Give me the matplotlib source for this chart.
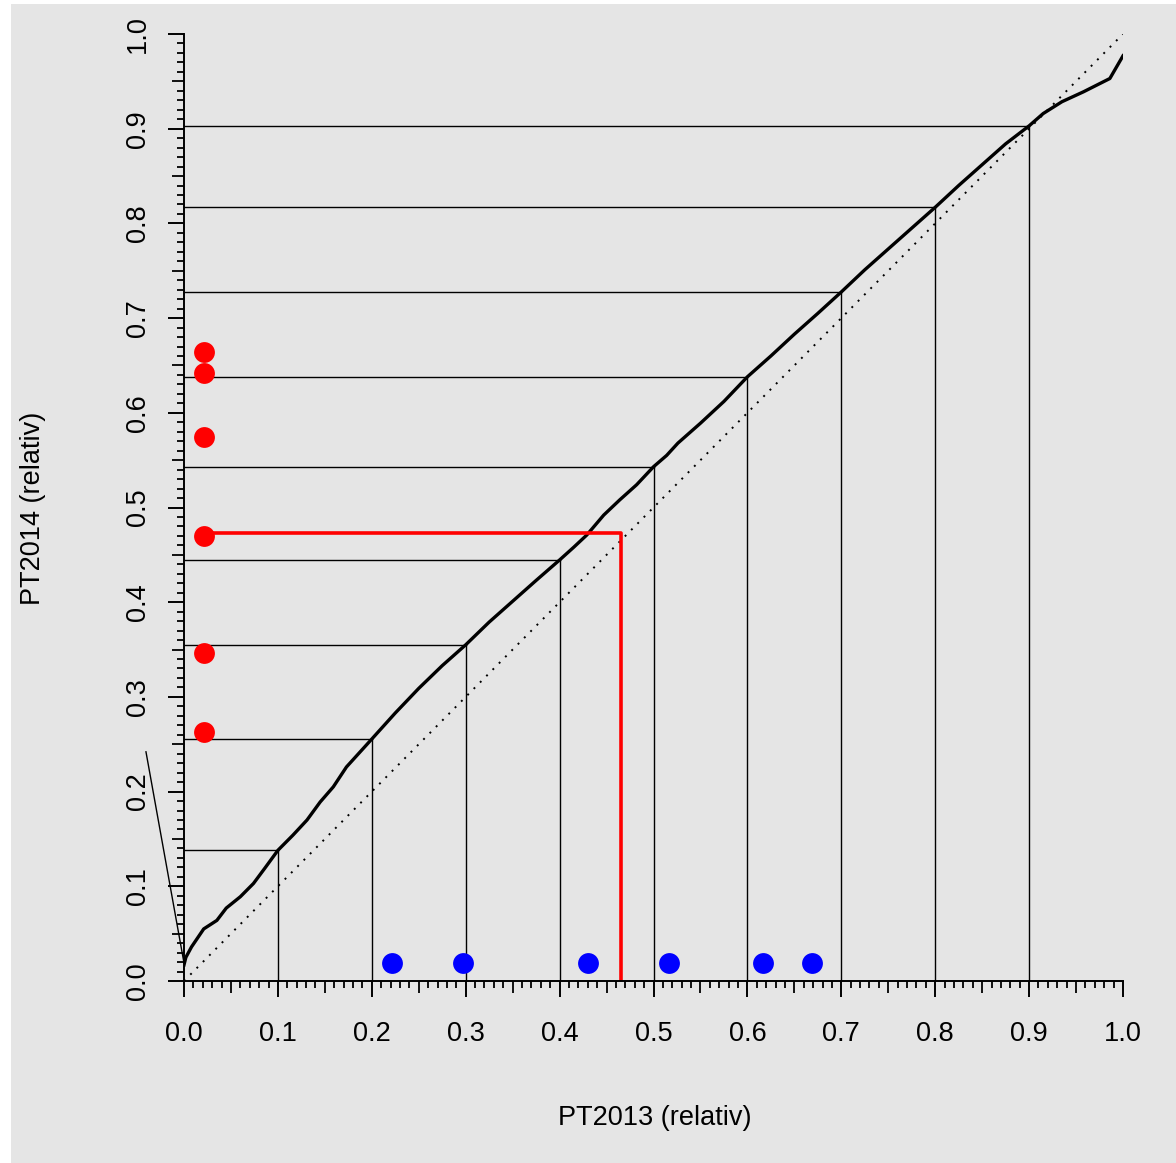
import matplotlib.pyplot as plt
from matplotlib.patches import Rectangle
from matplotlib.ticker import FixedLocator

plt.rcParams['font.family'] = ['Liberation Sans', 'DejaVu Sans']

# ----- data -----
# relative PT2013 vs relative PT2014 (black curve)
curve_x = [0.0, 0.002, 0.008, 0.021, 0.035, 0.045, 0.06, 0.074, 0.086, 0.1,
           0.116, 0.131, 0.145, 0.159, 0.173, 0.2, 0.225, 0.25, 0.275, 0.3,
           0.325, 0.35, 0.375, 0.4, 0.415, 0.429, 0.447, 0.464, 0.482, 0.5,
           0.514, 0.526, 0.55, 0.575, 0.6, 0.625, 0.65, 0.675, 0.7, 0.725,
           0.75, 0.775, 0.8, 0.825, 0.85, 0.875, 0.9, 0.915, 0.935, 0.958,
           0.986, 1.0]
curve_y = [0.017, 0.025, 0.036, 0.055, 0.064, 0.077, 0.089, 0.103, 0.119, 0.138,
           0.154, 0.170, 0.189, 0.205, 0.226, 0.2555, 0.283, 0.309, 0.333, 0.355,
           0.379, 0.401, 0.423, 0.4446, 0.458, 0.471, 0.492, 0.508, 0.524, 0.543,
           0.555, 0.568, 0.589, 0.612, 0.638, 0.660, 0.683, 0.705, 0.7276, 0.751,
           0.773, 0.795, 0.817, 0.840, 0.862, 0.884, 0.903, 0.916, 0.9285, 0.939,
           0.953, 0.977]

# guide lines at the deciles
decile_x = [0.1, 0.2, 0.3, 0.4, 0.5, 0.6, 0.7, 0.8, 0.9]
decile_y = [0.138, 0.2555, 0.355, 0.4446, 0.543, 0.638, 0.7276, 0.817, 0.903]

# highlighted point (red)
mark_x = 0.465
mark_y = 0.473

# red dots on the y side, blue dots on the x side
red_x = 0.021
red_y = [0.6645, 0.6424, 0.5748, 0.4699, 0.3460, 0.2632]
blue_x = [0.2212, 0.2968, 0.4299, 0.5168, 0.6163, 0.6685]
blue_y = 0.0193

# the stray line left of the y axis
stray_x = [-0.0405, 0.0]
stray_y = [0.242, 0.019]

W, H = 1176, 1163
fig = plt.figure(figsize=(W / 100, H / 100), dpi=100, facecolor='white')
# grey plotting region, leaving a thin white strip on the left and top
fig.patches.append(Rectangle((11 / W, 0), 1 - 11 / W, 1 - 4 / H,
                             transform=fig.transFigure, facecolor='#e5e5e5',
                             edgecolor='none', zorder=-10))

ax = fig.add_axes([184 / W, (H - 981) / H, 939 / W, 947 / H])
ax.set_facecolor('none')
ax.set_xlim(0, 1)
ax.set_ylim(0, 1)

# diagonal reference
ax.plot([0, 1], [0, 1], color='black', lw=1.4, linestyle=(0, (1.0, 3.6)))

# decile guide lines
for gx, gy in zip(decile_x, decile_y):
    ax.plot([0, gx], [gy, gy], color='black', lw=1.0)
    ax.plot([gx, gx], [0, gy], color='black', lw=1.0)

ax.plot(curve_x, curve_y, color='black', lw=2.4)
ax.plot(stray_x, stray_y, color='black', lw=1.0, clip_on=False)

# red marker lines
ax.plot([red_x, mark_x, mark_x], [mark_y, mark_y, 0], color='red', lw=2.6)

ax.plot([red_x] * len(red_y), red_y, 'o', color='red', ms=15, mec='none', clip_on=False)
ax.plot(blue_x, [blue_y] * len(blue_x), 'o', color='blue', ms=15, mec='none', clip_on=False)

# R style axes: only left and bottom
for side in ['top', 'right']:
    ax.spines[side].set_visible(False)
for side in ['left', 'bottom']:
    ax.spines[side].set_linewidth(1.4)

ticks = [i / 10 for i in range(11)]
ax.set_xticks(ticks)
ax.set_yticks(ticks)
ax.set_xticklabels([f"{t:.1f}" for t in ticks], fontsize=19.5)
ax.set_yticklabels([f"{t:.1f}" for t in ticks], fontsize=19.5, rotation=90, va='center')

small = [i / 100 for i in range(101) if i % 5 != 0]
ax.xaxis.set_minor_locator(FixedLocator(small))
ax.yaxis.set_minor_locator(FixedLocator(small))
ax.tick_params(which='major', length=11.5, width=1.4)
ax.tick_params(axis='x', which='major', pad=17)
ax.tick_params(axis='y', which='major', pad=12)
ax.tick_params(which='minor', length=4.8, width=1.3)

# medium ticks at the 0.05 steps
mid = [i / 100 for i in range(5, 100, 10)]
secx = ax.secondary_xaxis('bottom')
secx.set_xticks(mid)
secx.set_xticklabels([])
secx.tick_params(length=8.4, width=1.3)
secx.spines['bottom'].set_visible(False)
secy = ax.secondary_yaxis('left')
secy.set_yticks(mid)
secy.set_yticklabels([])
secy.tick_params(length=8.4, width=1.3)
secy.spines['left'].set_visible(False)

fig.text(655 / W, 1 - 1118 / H, "PT2013 (relativ)", fontsize=19.5, ha='center', va='center')
fig.text(33 / W, 1 - 508 / H, "PT2014 (relativ)", fontsize=19.5, ha='center', va='center',
         rotation=90)

fig.savefig('out.png', dpi=100)
